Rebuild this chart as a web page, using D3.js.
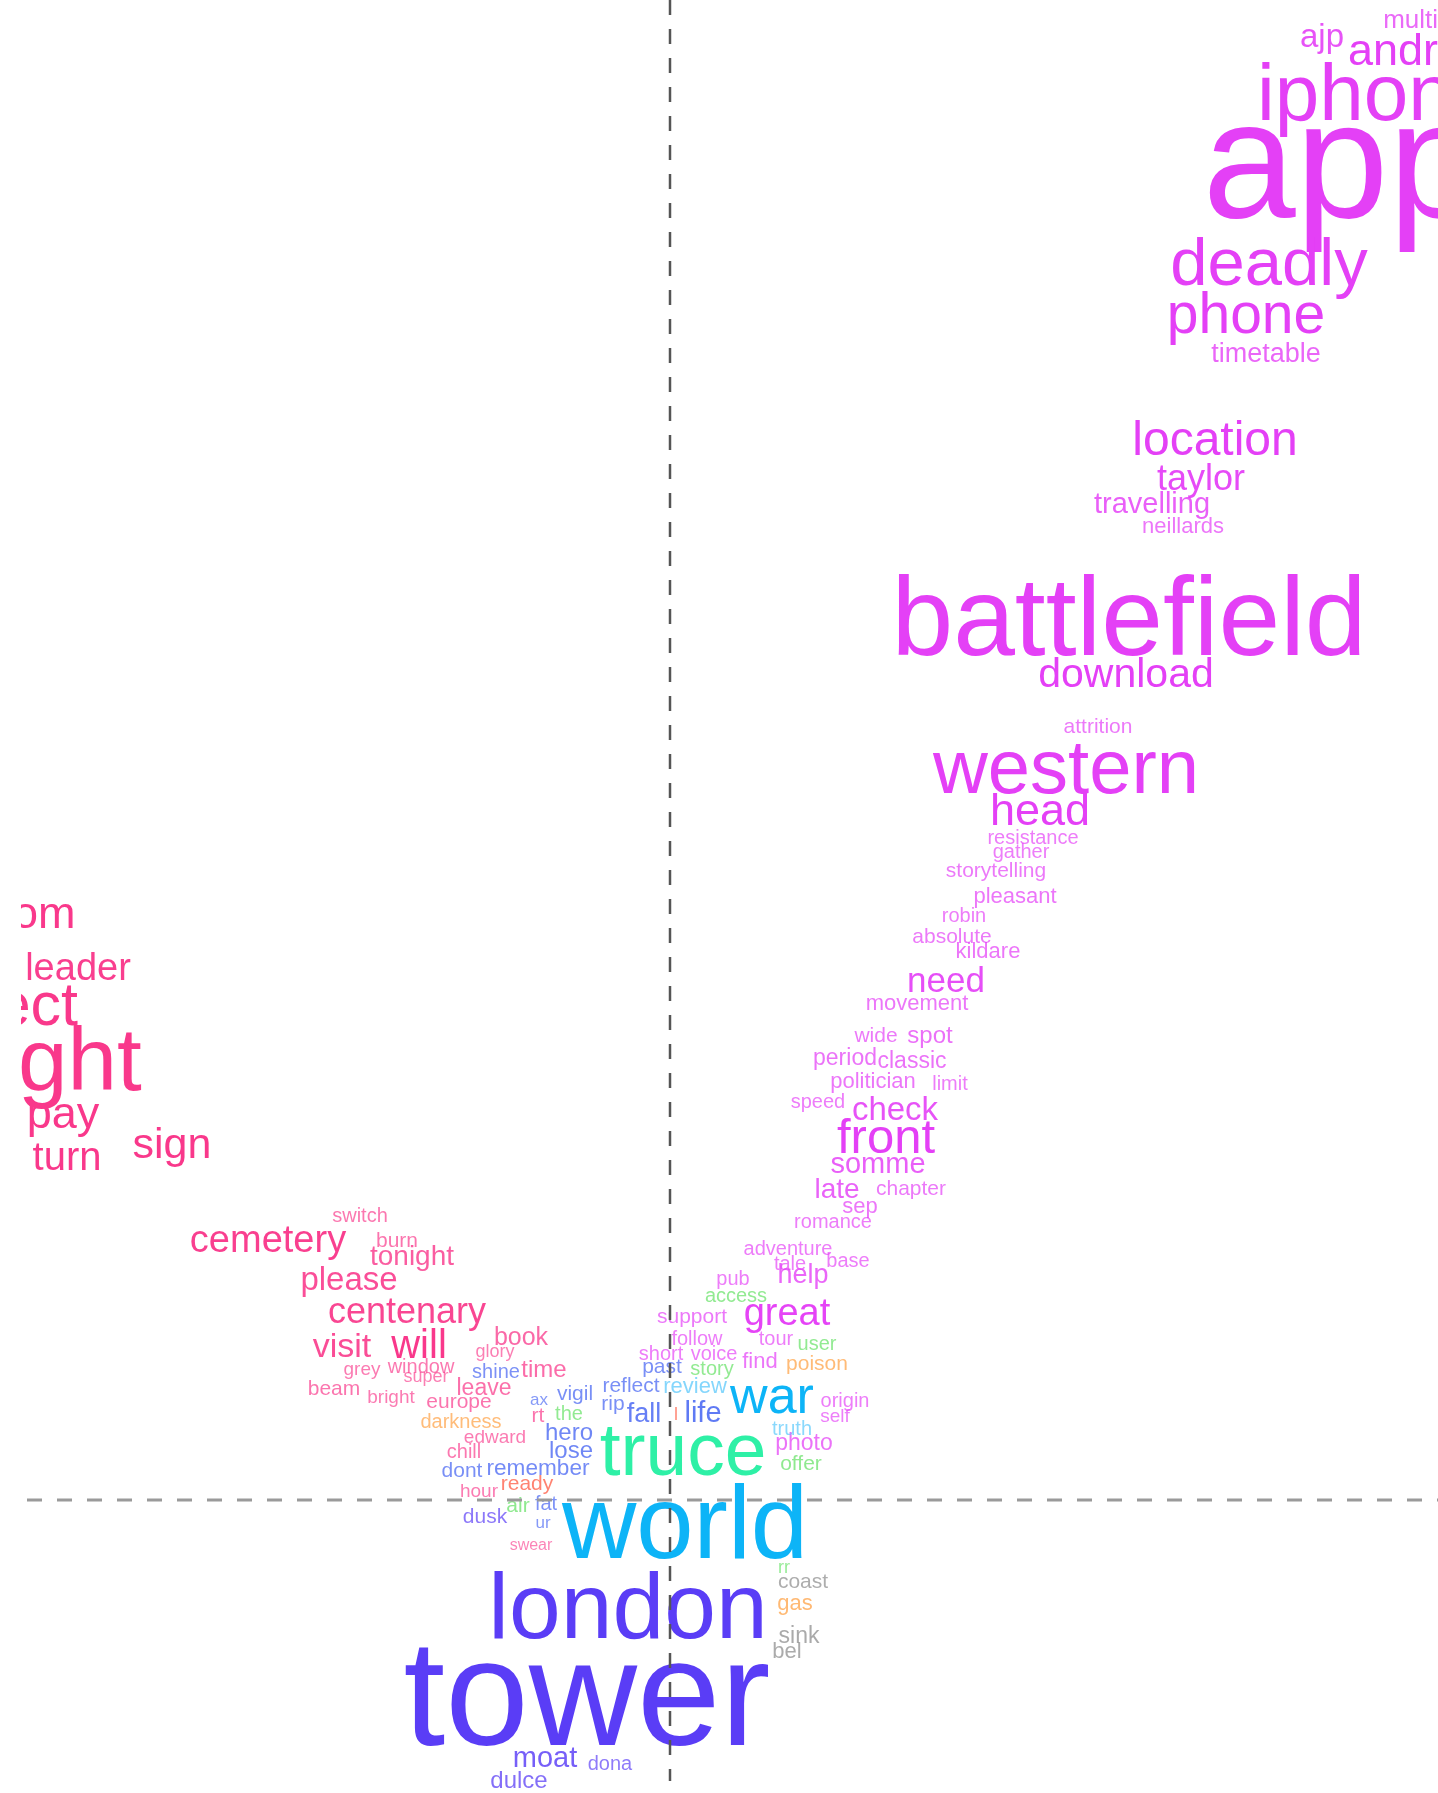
<!DOCTYPE html>
<html lang="en">

<head>
    <meta charset="UTF-8">
    <title>Word map</title>
    <script src="https://d3js.org/d3.v7.min.js"></script>
    <style>
        html, body {
            margin: 0;
            padding: 0;
            background: #fff;
        }

        svg text {
            font-family: "Liberation Sans", Arial, sans-serif;
        }
    </style>
</head>

<body>
    <svg width="1438" height="1793"></svg>

    <script>
        // each entry: [word, dim1, dim2, weight]
        const magentaWords = [
            ["multiplayer", 7.76, 14.72, 26], ["ajp", 6.52, 14.53, 33], ["android", 7.53, 14.35, 45],
            ["iphone", 7.07, 13.80, 80], ["app", 6.72, 12.83, 167], ["deadly", 5.99, 12.15, 67],
            ["phone", 5.76, 11.67, 57], ["timetable", 5.96, 11.38, 27], ["location", 5.45, 10.45, 48],
            ["taylor", 5.31, 10.10, 36], ["travelling", 4.82, 9.87, 29], ["neillards", 5.13, 9.67, 22],
            ["battlefield", 4.59, 8.45, 111], ["download", 4.56, 8.13, 41], ["attrition", 4.28, 7.67, 21],
            ["western", 3.96, 7.07, 76], ["head", 3.70, 6.75, 45], ["resistance", 3.63, 6.56, 20],
            ["gather", 3.51, 6.42, 20], ["storytelling", 3.26, 6.23, 21], ["pleasant", 3.45, 5.97, 22],
            ["robin", 2.94, 5.78, 20], ["absolute", 2.82, 5.57, 21], ["kildare", 3.18, 5.42, 22],
            ["need", 2.76, 5.08, 35], ["movement", 2.47, 4.90, 22], ["wide", 2.06, 4.58, 21],
            ["spot", 2.60, 4.57, 24], ["period", 1.75, 4.35, 23], ["classic", 2.42, 4.32, 23],
            ["politician", 2.03, 4.12, 22], ["limit", 2.80, 4.10, 20], ["speed", 1.48, 3.92, 20],
            ["check", 2.25, 3.80, 33], ["front", 2.16, 3.47, 49], ["somme", 2.08, 3.27, 29],
            ["late", 1.67, 3.02, 28], ["chapter", 2.41, 3.05, 21], ["sep", 1.90, 2.87, 22],
            ["romance", 1.63, 2.72, 20], ["adventure", 1.18, 2.45, 20], ["tale", 1.20, 2.30, 20],
            ["base", 1.78, 2.33, 20], ["help", 1.33, 2.17, 27], ["pub", 0.63, 2.15, 20],
            ["great", 1.17, 1.75, 38], ["support", 0.22, 1.77, 21], ["follow", 0.27, 1.55, 20],
            ["tour", 1.06, 1.55, 20], ["short", -0.09, 1.40, 20], ["voice", 0.44, 1.40, 20],
            ["find", 0.90, 1.32, 22], ["origin", 1.75, 0.93, 20], ["self", 1.65, 0.78, 19],
            ["photo", 1.34, 0.50, 23]
        ];

        const pinkWords = [
            ["freedom", -6.77, 5.72, 45], ["leader", -5.92, 5.20, 38], ["respect", -6.92, 4.75, 61],
            ["light", -6.10, 4.10, 89], ["pay", -6.07, 3.72, 45], ["turn", -6.03, 3.30, 40],
            ["sign", -4.98, 3.42, 43], ["switch", -3.10, 2.78, 20], ["cemetery", -4.02, 2.48, 38],
            ["burn", -2.73, 2.53, 21], ["tonight", -2.58, 2.35, 28], ["please", -3.21, 2.10, 33],
            ["centenary", -2.63, 1.77, 36], ["visit", -3.28, 1.43, 34], ["will", -2.51, 1.42, 40],
            ["book", -1.49, 1.55, 25], ["glory", -1.75, 1.43, 18], ["grey", -3.08, 1.25, 19],
            ["window", -2.49, 1.27, 20], ["super", -2.44, 1.18, 18], ["time", -1.26, 1.23, 24],
            ["beam", -3.36, 1.05, 21], ["bright", -2.79, 0.97, 19], ["leave", -1.86, 1.05, 23],
            ["europe", -2.11, 0.92, 21], ["rt", -1.32, 0.78, 21], ["edward", -1.75, 0.57, 19],
            ["chill", -2.06, 0.42, 20], ["hour", -1.91, 0.03, 19], ["swear", -1.39, -0.50, 16]
        ];

        const blueWords = [
            ["shine", -1.74, 1.22, 20], ["past", -0.08, 1.27, 21], ["reflect", -0.39, 1.08, 21],
            ["ax", -1.31, 0.95, 17], ["vigil", -0.95, 1.00, 21], ["rip", -0.57, 0.90, 21],
            ["fall", -0.26, 0.78, 27], ["life", 0.33, 0.78, 29], ["hero", -1.01, 0.60, 24],
            ["lose", -0.99, 0.42, 24], ["dont", -2.08, 0.23, 21], ["remember", -1.32, 0.25, 22.6],
            ["fat", -1.24, -0.10, 20], ["ur", -1.27, -0.28, 17]
        ];

        const indigoWords = [
            ["london", -0.42, -1.38, 93], ["tower", -0.83, -2.45, 150], ["moat", -1.25, -2.67, 29],
            ["dona", -0.60, -2.70, 20], ["dulce", -1.51, -2.88, 24], ["dusk", -1.85, -0.23, 21]
        ];

        const skyWords = [["war", 1.02, 0.87, 52], ["world", 0.15, -0.58, 103]];
        const mintWords = [["truce", 0.13, 0.25, 75]];
        const lightBlueWords = [["review", 0.25, 1.07, 22], ["truth", 1.22, 0.65, 20]];
        const greenWords = [
            ["access", 0.66, 1.98, 20], ["user", 1.47, 1.50, 20], ["story", 0.42, 1.25, 20],
            ["offer", 1.31, 0.30, 21], ["the", -1.01, 0.80, 20], ["air", -1.52, -0.12, 21],
            ["rr", 1.14, -0.73, 18]
        ];
        const orangeWords = [["poison", 1.47, 1.30, 21], ["darkness", -2.09, 0.72, 20], ["gas", 1.25, -1.10, 22]];
        const redWords = [["ready", -1.43, 0.10, 21], ["l", 0.06, 0.80, 18]];
        const greyWords = [["coast", 1.33, -0.88, 21], ["sink", 1.29, -1.43, 23], ["bel", 1.17, -1.58, 22]];

        const groups = {
            magenta: magentaWords, pink: pinkWords, blue: blueWords, indigo: indigoWords,
            sky: skyWords, mint: mintWords, lightblue: lightBlueWords, green: greenWords,
            orange: orangeWords, red: redWords, grey: greyWords
        };

        const W = 1438, H = 1793;
        const svg = d3.select("svg");

        const x = d3.scaleLinear().domain([-6.7, 7.68]).range([0, W]);
        const y = d3.scaleLinear().domain([15, -2.93]).range([0, H]);
        const size = d3.scaleLinear().domain([0, 100]).range([0, 100]);
        const alpha = d3.scaleLinear().domain([16, 40]).range([0.62, 1]).clamp(true);

        const color = d3.scaleOrdinal()
            .domain(["magenta", "pink", "blue", "indigo", "sky", "mint", "lightblue", "green", "orange", "red", "grey"])
            .range(["#e43ff6", "#f9398b", "#3f5ef2", "#5a3df6", "#0cb4f7", "#2ef0a6", "#52c6fb", "#5fe05f", "#ff9d3c", "#ff4d33", "#8a8a8a"]);

        const rows = [];
        Object.entries(groups).forEach(([g, list]) => {
            list.forEach(d => rows.push({ word: d[0], a: d[1], b: d[2], w: d[3], g: g }));
        });

        const defs = svg.append("defs");
        defs.append("clipPath").attr("id", "panel")
            .append("rect").attr("x", 21).attr("y", 0).attr("width", W).attr("height", H);
        defs.append("filter").attr("id", "soft")
            .attr("x", "-5%").attr("y", "-5%").attr("width", "110%").attr("height", "110%")
            .append("feGaussianBlur").attr("stdDeviation", 0.6);

        const panel = svg.append("g").attr("clip-path", "url(#panel)")
            .append("g").attr("filter", "url(#soft)");

        panel.selectAll("text.word")
            .data(rows)
            .enter()
            .append("text")
            .attr("class", "word")
            .attr("x", d => x(d.a))
            .attr("y", d => y(d.b))
            .attr("text-anchor", "middle")
            .attr("font-size", d => size(d.w) + "px")
            .attr("fill", d => color(d.g))
            .attr("fill-opacity", d => alpha(d.w))
            .text(d => d.word);

        // reference lines at zero
        panel.append("line")
            .attr("x1", 27).attr("x2", W)
            .attr("y1", y(0)).attr("y2", y(0))
            .attr("stroke", "#9a9a9a")
            .attr("stroke-width", 3)
            .attr("stroke-dasharray", "15,15");

        panel.append("line")
            .attr("x1", x(0)).attr("x2", x(0))
            .attr("y1", 0).attr("y2", 1781)
            .attr("stroke", "#555")
            .attr("stroke-width", 2.5)
            .attr("stroke-dasharray", "15,14");
    </script>
</body>

</html>
